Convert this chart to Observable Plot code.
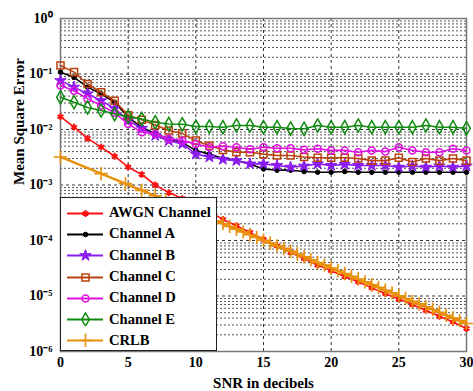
<!DOCTYPE html>
<html>
<head>
<meta charset="utf-8">
<script src="https://cdn.jsdelivr.net/npm/d3@7"></script>
<script src="https://cdn.jsdelivr.net/npm/@observablehq/plot@0.6"></script>
<style>
  body { margin: 0; background: #fff; }
  #wrap { position: relative; width: 473px; height: 391px; }
  #legend {
    position: absolute; left: 60px; top: 197px; width: 157px; height: 154px;
    background: #fff; border: 1.5px solid #222; box-sizing: border-box;
    font-family: "Liberation Serif", "Times New Roman", serif; font-weight: bold; font-size: 14.6px;
    padding-top: 4px;
  }
  .row { display: flex; align-items: center; height: 21.3px; }
  .row svg { margin-left: 6px; margin-right: 6px; }
</style>
</head>
<body>
<div id="wrap"></div>
<script>
const snrDb = [0,1,2,3,4,5,6,7,8,9,10,11,12,13,14,15,16,17,18,19,20,21,22,23,24,25,26,27,28,29,30];

const awgn = [1.7e-2,1.1e-2,6.9e-3,4.8e-3,3.3e-3,2.1e-3,1.55e-3,1.0e-3,7.3e-4,5.7e-4,4.3e-4,3.3e-4,2.4e-4,1.85e-4,1.4e-4,1.05e-4,8.0e-5,6.1e-5,4.7e-5,3.6e-5,2.85e-5,2.25e-5,1.8e-5,1.4e-5,1.1e-5,8.8e-6,7.0e-6,5.5e-6,4.3e-6,3.4e-6,2.6e-6];
const chanA = [1.08e-1,8.7e-2,5.8e-2,4.4e-2,3.1e-2,1.66e-2,1.1e-2,8.4e-3,6.8e-3,5.8e-3,4.2e-3,3.6e-3,3.0e-3,2.75e-3,2.4e-3,1.95e-3,1.85e-3,1.85e-3,1.75e-3,1.7e-3,1.7e-3,1.75e-3,1.7e-3,1.7e-3,1.7e-3,1.7e-3,1.7e-3,1.7e-3,1.7e-3,1.7e-3,1.7e-3];
const chanB = [7.6e-2,5.8e-2,4.4e-2,3.3e-2,2.4e-2,1.45e-2,1.05e-2,7.8e-3,6.3e-3,5.5e-3,3.6e-3,3.2e-3,2.9e-3,2.75e-3,2.4e-3,2.4e-3,2.25e-3,2.1e-3,2.2e-3,2.4e-3,2.25e-3,2.35e-3,2.25e-3,2.25e-3,2.25e-3,2.1e-3,2.2e-3,2.1e-3,2.2e-3,2.1e-3,2.2e-3];
const chanC = [1.42e-1,1.08e-1,6.6e-2,4.7e-2,3.3e-2,1.8e-2,1.5e-2,1.2e-2,9.6e-3,8.5e-3,6.3e-3,5.1e-3,4.3e-3,3.9e-3,3.9e-3,3.6e-3,3.4e-3,3.4e-3,3.2e-3,3.1e-3,3.1e-3,3.1e-3,3.0e-3,2.75e-3,2.75e-3,3.1e-3,2.6e-3,3.0e-3,2.75e-3,3.0e-3,2.75e-3];
const chanD = [6.2e-2,5.0e-2,3.6e-2,2.7e-2,2.0e-2,1.26e-2,8.9e-3,8.4e-3,6.8e-3,6.3e-3,5.5e-3,4.8e-3,5.0e-3,4.8e-3,4.4e-3,4.8e-3,4.6e-3,4.6e-3,4.3e-3,4.5e-3,4.2e-3,4.2e-3,3.9e-3,4.2e-3,4.0e-3,4.8e-3,4.2e-3,3.9e-3,3.9e-3,4.5e-3,4.2e-3];
const chanE = [3.8e-2,3.1e-2,2.5e-2,2.2e-2,1.9e-2,1.7e-2,1.55e-2,1.35e-2,1.26e-2,1.24e-2,1.13e-2,1.13e-2,1.1e-2,1.18e-2,1.18e-2,1.1e-2,1.1e-2,1.04e-2,1.03e-2,1.18e-2,1.1e-2,1.1e-2,1.18e-2,1.1e-2,1.1e-2,1.1e-2,1.1e-2,1.18e-2,1.1e-2,1.1e-2,1.05e-2];

const crlbDb = [0,3,4.8,6,7,7.8,8.5,9,9.5,10,10.5,11,11.5,12,12.5,13,13.5,14,14.5,15,15.5,16,16.5,17,17.5,18,18.5,19,19.5,20,20.5,21,21.5,22,22.5,23,23.5,24,24.5,25,25.5,26,26.5,27,27.5,28,28.5,29,29.5,30];
const crlb = [3.2e-3,1.6e-3,1.06e-3,8.0e-4,6.4e-4,5.3e-4,4.5e-4,4.0e-4,3.6e-4,3.2e-4,2.85e-4,2.54e-4,2.27e-4,2.02e-4,1.8e-4,1.6e-4,1.43e-4,1.27e-4,1.14e-4,1.01e-4,9.0e-5,8.0e-5,7.2e-5,6.4e-5,5.7e-5,5.1e-5,4.5e-5,4.0e-5,3.6e-5,3.2e-5,2.85e-5,2.54e-5,2.27e-5,2.02e-5,1.8e-5,1.6e-5,1.43e-5,1.27e-5,1.14e-5,1.01e-5,9.0e-6,8.0e-6,7.2e-6,6.4e-6,5.7e-6,5.1e-6,4.5e-6,4.0e-6,3.6e-6,3.2e-6];

const seriesNames = ["AWGN Channel","Channel A","Channel B","Channel C","Channel D","Channel E","CRLB"];
const seriesColors = ["#ff1010","#000000","#8a1cf0","#b8420e","#e010e0","#108a10","#e8900a"];
const xTicks = [0,5,10,15,20,25,30];
const yDecades = [1,1e-1,1e-2,1e-3,1e-4,1e-5,1e-6];
const yTickText = ["10⁰","10⁻¹","10⁻²","10⁻³","10⁻⁴","10⁻⁵","10⁻⁶"];
const xTitle = "SNR in decibels";
const yTitle = "Mean Square Error";

const styles = [
  {symbol: "asterisk", fill: "none", r: 3.2, sw: 2, lw: 1.6},
  {symbol: "circle", fill: "currentColor", r: 2.3, sw: 1, lw: 1.6},
  {symbol: "star", fill: "currentColor", r: 3.6, sw: 1, lw: 1.6},
  {symbol: "square", fill: "none", r: 4.0, sw: 1.5, lw: 1.6},
  {symbol: "circle", fill: "none", r: 3.5, sw: 1.5, lw: 1.6},
  {symbol: "diamond", fill: "none", r: 4.0, sw: 1.5, lw: 1.6},
  {symbol: "plus", fill: "none", r: 4.4, sw: 1.6, lw: 2.4}
];

const allY = [awgn, chanA, chanB, chanC, chanD, chanE];
const tables = allY.map((ys, i) => snrDb.map((x, j) => ({x, y: ys[j], s: seriesNames[i]})));
tables.push(crlbDb.map((x, j) => ({x, y: crlb[j], s: seriesNames[6]})));

const minorY = [];
for (let d = -6; d <= -1; d++) for (let k = 2; k <= 9; k++) minorY.push(k * Math.pow(10, d));

const marks = [
  Plot.ruleY(minorY, {stroke: "#555", strokeDasharray: "2,2", strokeWidth: 1}),
  Plot.ruleY(yDecades.slice(1, 6), {stroke: "#333", strokeDasharray: "3,3", strokeWidth: 1}),
  Plot.ruleX(xTicks.slice(1, 6), {stroke: "#333", strokeDasharray: "3,3", strokeWidth: 1}),
  Plot.frame({stroke: "#777", strokeWidth: 1.5})
];
tables.forEach((t, i) => {
  const c = seriesColors[i], st = styles[i];
  marks.push(Plot.line(t, {x: "x", y: "y", stroke: c, strokeWidth: st.lw}));
  marks.push(Plot.dot(t, {x: "x", y: "y", symbol: () => st.symbol, r: st.r, stroke: c,
    fill: st.fill === "none" ? "none" : c, strokeWidth: st.sw}));
});
marks.push(Plot.axisX({ticks: xTicks, tickSize: 0, tickPadding: 6, fontSize: 14, fontWeight: "bold", label: null}));
marks.push(Plot.axisY({ticks: yDecades, tickSize: 0, tickPadding: 8, fontSize: 14, fontWeight: "bold",
  tickFormat: (d) => yTickText[yDecades.indexOf(d)], label: null}));
marks.push(Plot.text([xTitle], {frameAnchor: "bottom", dy: 32, lineAnchor: "middle", fontSize: 15, fontWeight: "bold"}));
marks.push(Plot.text([yTitle], {frameAnchor: "left", dx: -41, rotate: -90, lineAnchor: "middle", fontSize: 15, fontWeight: "bold"}));

const chart = Plot.plot({
  width: 473, height: 391,
  marginTop: 18, marginRight: 7, marginBottom: 40, marginLeft: 60,
  x: {domain: [0, 30]},
  y: {type: "log", domain: [1e-6, 1]},
  style: {fontFamily: "'Liberation Serif', 'Times New Roman', serif", fontSize: "14px", color: "#000", background: "#fff"},
  marks
});
const wrap = document.getElementById("wrap");
wrap.appendChild(chart);

const legend = document.createElement("div");
legend.id = "legend";
seriesNames.forEach((name, i) => {
  const row = document.createElement("div");
  row.className = "row";
  const sym = Plot.plot({
    width: 36, height: 14, margin: 0, axis: null,
    x: {domain: [0, 1]}, y: {domain: [0, 1]},
    marks: [
      Plot.line([{x: 0, y: 0.5}, {x: 1, y: 0.5}], {x: "x", y: "y", stroke: seriesColors[i], strokeWidth: 1.8}),
      Plot.dot([{x: 0.5, y: 0.5}], {x: "x", y: "y", symbol: () => styles[i].symbol, r: styles[i].r,
        stroke: seriesColors[i], fill: styles[i].fill === "none" ? "none" : seriesColors[i], strokeWidth: styles[i].sw})
    ]
  });
  row.appendChild(sym);
  const label = document.createElement("span");
  label.textContent = name;
  row.appendChild(label);
  legend.appendChild(row);
});
wrap.appendChild(legend);
</script>
</body>
</html>
